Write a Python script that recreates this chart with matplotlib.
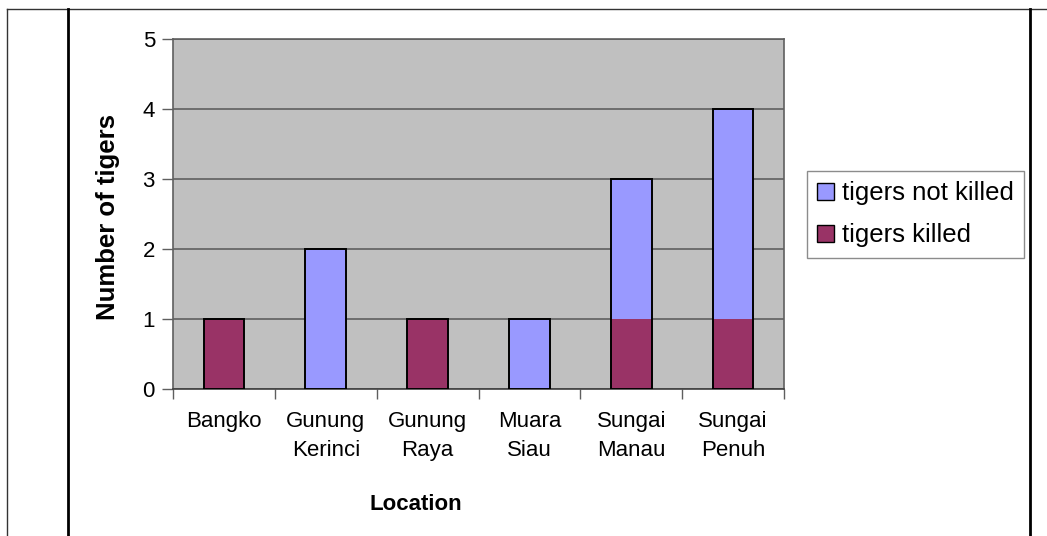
import matplotlib
matplotlib.use("Agg")
from matplotlib import pyplot as plt
from matplotlib.lines import Line2D
import numpy as np

plt.rcParams['font.family'] = ['Liberation Sans', 'DejaVu Sans']

locations = ["Bangko", "Gunung\nKerinci", "Gunung\nRaya", "Muara\nSiau", "Sungai\nManau", "Sungai\nPenuh"]
tigers_killed = [1, 0, 1, 0, 1, 1]
tigers_not_killed = [0, 2, 0, 1, 2, 3]

color_not_killed = "#9999FF"
color_killed = "#993366"
grid_gray = "#5f5f5f"

W, H = 1047, 536
fig = plt.figure(figsize=(W / 100, H / 100), dpi=100)

# plot area in pixels: x 173..784, y 39..389
ax = fig.add_axes([173 / W, 1 - 389 / H, 611 / W, 350 / H])
ax.set_facecolor("#C0C0C0")

x = np.arange(len(locations))
killed = np.array(tigers_killed)
not_killed = np.array(tigers_not_killed)
bar_w = 0.4

ax.bar(x, killed, bar_w, color=color_killed, linewidth=0, zorder=3)
ax.bar(x, not_killed, bar_w, bottom=killed, color=color_not_killed, linewidth=0, zorder=3)
# outline around the whole stack, no line between segments
ax.bar(x, killed + not_killed, bar_w, fill=False, edgecolor="black", linewidth=1.4, zorder=4)

ax.set_xlim(-0.5, len(locations) - 0.5)
ax.set_ylim(0, 5)
ax.set_yticks(range(0, 6))
ax.yaxis.grid(True, color=grid_gray, linewidth=1.2, zorder=1)
ax.set_axisbelow(True)

ax.set_xticks(x)
ax.set_xticklabels(locations, fontsize=16, linespacing=1.5)
ax.set_xticks(np.arange(-0.5, len(locations)), minor=True)
ax.tick_params(axis="x", which="major", length=0, pad=16)
ax.tick_params(axis="x", which="minor", length=7, width=1, color=grid_gray)
ax.tick_params(axis="y", labelsize=16, length=8, width=1, color=grid_gray, pad=5)

for side in ["left", "bottom", "right", "top"]:
    ax.spines[side].set_color(grid_gray)
    ax.spines[side].set_linewidth(1.2)
ax.spines["bottom"].set_color("#404040")

fig.text(108 / W, 1 - 217 / H, "Number of tigers", rotation=90, fontsize=18.5,
         fontweight="bold", ha="center", va="center")
fig.text(416 / W, 1 - 504 / H, "Location", fontsize=16, fontweight="bold",
         ha="center", va="center")

handles = [plt.Rectangle((0, 0), 1, 1, facecolor=color_not_killed, edgecolor="black", linewidth=1),
           plt.Rectangle((0, 0), 1, 1, facecolor=color_killed, edgecolor="black", linewidth=1)]
leg = fig.legend(handles, ["tigers not killed", "tigers killed"],
                 loc="upper left", bbox_to_anchor=(807 / W, 1 - 171 / H),
                 fontsize=18.5, frameon=True, fancybox=False, edgecolor="#707070",
                 handlelength=0.65, handleheight=0.65, handletextpad=0.3,
                 labelspacing=0.7, borderpad=0.4, borderaxespad=0)
leg.get_frame().set_linewidth(1)

# surrounding table lines
fig.add_artist(Line2D([7 / W, 1], [1 - 9 / H, 1 - 9 / H], color="#333333", linewidth=1,
                      transform=fig.transFigure))
fig.add_artist(Line2D([7 / W, 7 / W], [0, 1 - 9 / H], color="#333333", linewidth=1,
                      transform=fig.transFigure))
fig.add_artist(Line2D([68 / W, 68 / W], [0, 1 - 9 / H], color="black", linewidth=2,
                      transform=fig.transFigure))
fig.add_artist(Line2D([1030 / W, 1030 / W], [0, 1 - 9 / H], color="black", linewidth=2,
                      transform=fig.transFigure))

fig.savefig("out.png", dpi=100)
